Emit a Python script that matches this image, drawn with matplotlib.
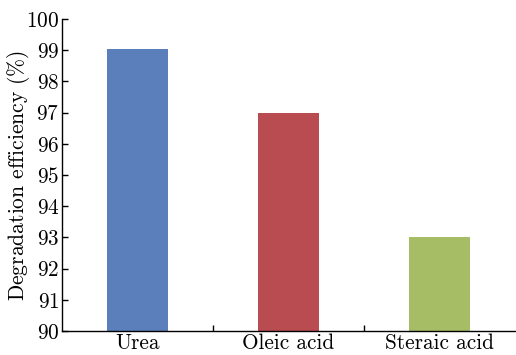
import numpy as np
import matplotlib.pyplot as plt

# Data
categories = ["Urea", "Oleic acid", "Steraic acid"]
efficiency = [99.05, 97.0, 93.0]
colors = ["#5a7fba", "#b94c50", "#a6bd65"]

plt.rcParams["font.family"] = "serif"
plt.rcParams["font.serif"] = ["cmr10", "DejaVu Serif"]
plt.rcParams["mathtext.fontset"] = "cm"
plt.rcParams["axes.formatter.use_mathtext"] = True

fig = plt.figure(figsize=(5.16, 3.55), dpi=100)
ax = fig.add_axes([0.1202, 0.0676, 0.8778, 0.8789])

x = np.arange(len(categories))
ax.bar(x, np.array(efficiency) - 90, bottom=90, width=0.4, color=colors)

ax.set_xlim(-0.5, 2.5)
ax.set_ylim(90, 100)
ax.set_yticks(np.arange(90, 101, 1))
ax.set_xticks(x)
ax.set_xticklabels(categories)
ax.set_xticks([0.5, 1.5], minor=True)

ax.tick_params(axis="x", which="major", length=0, labelsize=15.3, pad=2)
ax.tick_params(axis="x", which="minor", direction="in", length=4, width=1)
ax.tick_params(axis="y", direction="in", length=4, width=1, labelsize=15.3, pad=2)

for side in ["top", "right"]:
    ax.spines[side].set_visible(False)
for side in ["left", "bottom"]:
    ax.spines[side].set_linewidth(1)

ax.set_ylabel(r"Degradation efficiency ($\%$)", fontsize=15.5, labelpad=-4)

fig.savefig("out.png", dpi=100)
